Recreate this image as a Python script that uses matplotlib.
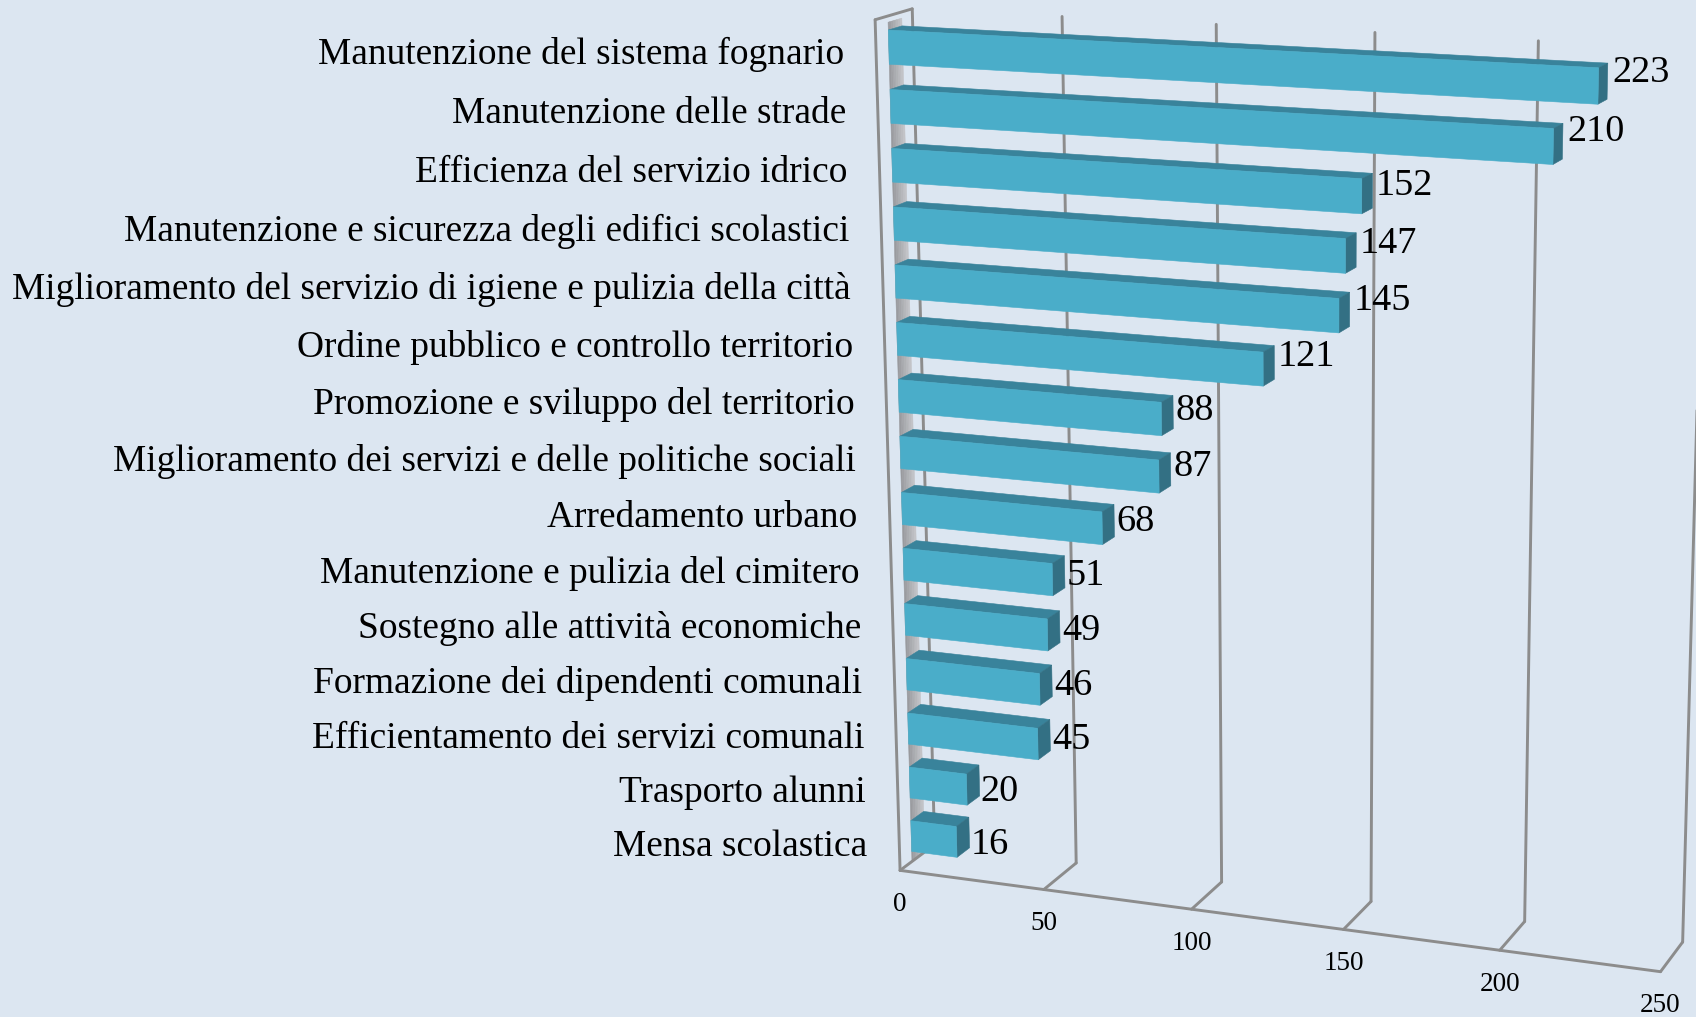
import numpy as np
import matplotlib
matplotlib.use("Agg")
import matplotlib.pyplot as plt
from matplotlib.patches import Polygon

# categories from top to bottom
categories = [
    "Manutenzione del sistema fognario",
    "Manutenzione delle strade",
    "Efficienza del servizio idrico",
    "Manutenzione e sicurezza degli edifici scolastici",
    "Miglioramento del servizio di igiene e pulizia della città",
    "Ordine pubblico e controllo territorio",
    "Promozione e sviluppo del territorio",
    "Miglioramento dei servizi e delle politiche sociali",
    "Arredamento urbano",
    "Manutenzione e pulizia del cimitero",
    "Sostegno alle attività economiche",
    "Formazione dei dipendenti comunali",
    "Efficientamento dei servizi comunali",
    "Trasporto alunni",
    "Mensa scolastica",
]
values = [223, 210, 152, 147, 145, 121, 88, 87, 68, 51, 49, 46, 45, 20, 16]
axis_ticks = [0, 50, 100, 150, 200, 250]

W, H = 1696, 1017
BG = "#dce6f1"
LINE = "#8c8c8c"
FRONT = "#4aadc9"
TOP = "#39839b"
SIDE = "#337084"
SERIF = "Liberation Serif"

# camera calibration: (value, depth, height) -> picture pixel
world = np.array([
    [0, 0, 0], [0, 0, 1], [0, 1, 1], [0, 1, 0],
    [50, 0, 0], [50, 1, 0], [50, 1, 1],
    [100, 0, 0], [100, 1, 0], [100, 1, 1],
    [150, 0, 0], [150, 1, 0], [150, 1, 1],
    [200, 0, 0], [200, 1, 0], [200, 1, 1],
    [250, 0, 0], [250, 1, 0], [250, 1, 1],
], dtype=float)
pixels = np.array([
    [899.3, 870.7], [874, 20], [912.7, 9.3], [934, 844],
    [1045, 889], [1076, 863.3], [1062.3, 16.7],
    [1192.7, 909], [1221.7, 881.7], [1216.7, 24],
    [1343.3, 929.3], [1370.7, 901.7], [1375.3, 32.3],
    [1500, 950.3], [1525, 921.7], [1538.7, 40.7],
    [1660, 972], [1682.3, 942.3], [1706, 49],
])

# fit a 3x4 projective matrix to the points above
rows, rhs = [], []
for (a, b, c), (u, v) in zip(world, pixels):
    a = a / 250
    rows.append([a, b, c, 1, 0, 0, 0, 0, -u * a, -u * b, -u * c])
    rows.append([0, 0, 0, 0, a, b, c, 1, -v * a, -v * b, -v * c])
    rhs += [u, v]
m = np.linalg.lstsq(np.array(rows), np.array(rhs), rcond=None)[0]
P = np.append(m, 1).reshape(3, 4)


def project(val, depth, height):
    q = P @ np.array([val / 250, depth, height, 1.0])
    return q[0] / q[2], q[1] / q[2]


fig = plt.figure(figsize=(W / 100, H / 100), dpi=100, facecolor=BG)
ax = fig.add_axes([0, 0, 1, 1])
ax.set_xlim(0, W)
ax.set_ylim(H, 0)
ax.axis("off")


def line3d(a, b, **kw):
    pa, pb = project(*a), project(*b)
    ax.plot([pa[0], pb[0]], [pa[1], pb[1]], color=LINE, lw=2.1,
            solid_capstyle="round", solid_joinstyle="round", **kw)


def face(corners, color, z=3):
    ax.add_patch(Polygon([project(*c) for c in corners], closed=True,
                         facecolor=color, edgecolor=color, lw=0.4, zorder=z))


D0, D1 = 0.34, 0.71
n = len(categories)
slot = 1 / n
half = slot * 0.575 / 2

# grey strip on the side wall
greys = np.linspace(0.60, 0.76, 8)
edges = np.linspace(D0, D1, 9)
for g, d0, d1 in zip(greys, edges[:-1], edges[1:]):
    face([(0, d0, 0), (0, d1, 0), (0, d1, 0.993), (0, d0, 0.993)],
         (g, g + 0.005, g + 0.02), z=1)

# walls, floor and gridlines
line3d((0, 0, 0), (0, 0, 1), zorder=2)
line3d((0, 0, 1), (0, 1, 1), zorder=2)
line3d((0, 0, 0), (axis_ticks[-1], 0, 0), zorder=2)
for t in axis_ticks:
    line3d((t, 0, 0), (t, 1, 0), zorder=2)
    line3d((t, 1, 0), (t, 1, 1), zorder=2)
    x, y = project(t, 0, 0)
    ax.text(x, y + 34, str(t), family=SERIF, fontsize=19.5, ha="center",
            va="center", color="black", zorder=6)

# bars, top one first
for i, (name, val) in enumerate(zip(categories, values)):
    c = 1 - (i + 0.5) * slot - 0.0015
    lo, hi = c - half, c + half
    face([(0, D0, hi), (0, D1, hi), (val, D1, hi), (val, D0, hi)], TOP)
    face([(val, D0, lo), (val, D1, lo), (val, D1, hi), (val, D0, hi)], SIDE)
    face([(0, D0, lo), (val, D0, lo), (val, D0, hi), (0, D0, hi)], FRONT)

    left_x, left_y = project(0, D0, c)
    lab_x = project(0, 0, c)[0] - 32
    ax.text(lab_x, left_y + 7.5 + 0.2 * i, name, family=SERIF, fontsize=26.9,
            ha="right", va="center", color="black", zorder=6)

    end_x = project(val, D1, c)[0]
    ax.text(end_x + 1.2 + 0.016 * val, left_y + 7.5 + 0.083 * val, str(val),
            family=SERIF, fontsize=27.5, ha="left", va="center",
            color="black", zorder=6)

fig.savefig("out.png", dpi=100, facecolor=BG)
